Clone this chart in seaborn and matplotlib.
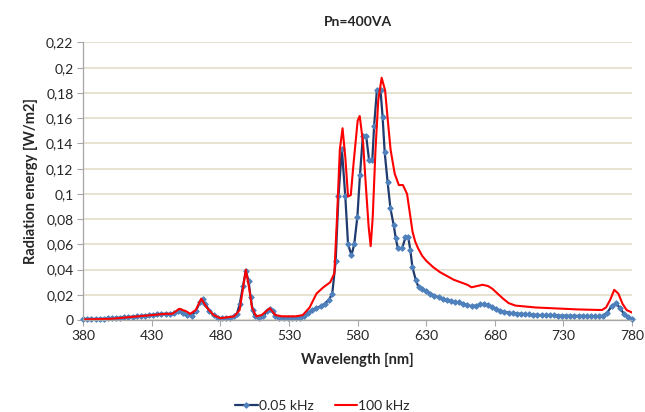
import matplotlib
matplotlib.use("Agg")
import matplotlib.pyplot as plt
from matplotlib.ticker import FuncFormatter, MultipleLocator
import seaborn as sns

# 0.05 kHz series (wavelength nm, radiation energy W/m2)
wl_low = [380, 383, 386, 389, 392, 395, 398, 401, 404, 407, 410, 413, 416, 419, 422,
          425, 428, 431, 434, 437, 440, 443, 446, 449, 451, 453, 456, 459, 462, 465,
          467, 469, 472, 475, 478, 481, 484, 487, 490, 492, 494, 496.5, 498.5, 500.5,
          502, 503.5, 505, 508, 511, 514, 516, 518, 520, 523, 526, 529, 532, 535, 538,
          541, 544, 547, 550, 553, 556, 559, 561.5, 564, 566, 568.5, 571, 573, 575.5,
          577.5, 579.8, 581.7, 583.8, 586.2, 588.3, 590.7, 592, 594, 596.7, 598.2,
          599.7, 601.8, 603.9, 606.3, 607.8, 609.3, 612.4, 614.8, 616.9, 618.4, 619.9,
          622.3, 624.4, 627, 630, 633, 636, 639, 642, 645, 648, 651, 654, 657, 660,
          663, 666, 669, 672, 675, 678, 681, 684, 687, 690, 693, 696, 699, 702, 705,
          708, 711, 714, 717, 720, 723, 726, 729, 732, 735, 738, 741, 744, 747, 750,
          753, 756, 759, 762, 765, 768, 771, 774, 777, 780]
val_low = [0.001, 0.001, 0.001, 0.001, 0.001, 0.0012, 0.0013, 0.0015, 0.0018, 0.002,
           0.0022, 0.0025, 0.0028, 0.003, 0.0033, 0.0036, 0.004, 0.0043, 0.0046, 0.005,
           0.005, 0.0048, 0.0055, 0.0072, 0.0075, 0.006, 0.004, 0.0035, 0.007, 0.014,
           0.0166, 0.013, 0.007, 0.004, 0.002, 0.0015, 0.0015, 0.002, 0.003, 0.005,
           0.0125, 0.027, 0.039, 0.031, 0.018, 0.008, 0.003, 0.0015, 0.003, 0.007,
           0.0092, 0.007, 0.003, 0.0015, 0.0015, 0.0015, 0.0015, 0.0018, 0.002, 0.003,
           0.006, 0.008, 0.0095, 0.011, 0.013, 0.016, 0.021, 0.047, 0.098, 0.1355,
           0.098, 0.060, 0.0515, 0.060, 0.082, 0.115, 0.146, 0.146, 0.127, 0.127,
           0.154, 0.182, 0.182, 0.1606, 0.133, 0.1096, 0.0885, 0.075, 0.0647, 0.0568,
           0.0568, 0.0655, 0.0655, 0.0555, 0.042, 0.032, 0.026, 0.0245, 0.023, 0.021,
           0.0195, 0.018, 0.017, 0.016, 0.015, 0.0145, 0.014, 0.013, 0.012, 0.011,
           0.0115, 0.0125, 0.0127, 0.012, 0.0105, 0.009, 0.0075, 0.0065, 0.006, 0.0055,
           0.0052, 0.005, 0.0048, 0.0045, 0.0043, 0.0042, 0.004, 0.004, 0.0038, 0.0037,
           0.0036, 0.0035, 0.0035, 0.0034, 0.0034, 0.0034, 0.0033, 0.0033, 0.0032,
           0.0032, 0.0032, 0.0035, 0.006, 0.011, 0.0132, 0.010, 0.005, 0.0025, 0.001]

# 100 kHz series
wl_high = [380, 400, 420, 440, 445, 450, 455, 458, 462, 466, 470, 475, 480, 490, 494,
           496, 498.5, 501, 503, 506, 510, 516, 520, 525, 535, 540, 545, 550, 555, 560,
           563, 565, 567, 569, 571, 573, 575, 577, 580, 581.5, 584, 586, 588, 589.5,
           591, 593, 595, 597.5, 600, 602, 604, 607, 610, 613, 616, 618.4, 620, 622,
           624, 627, 630, 635, 640, 645, 650, 655, 660, 663, 667, 671, 675, 678, 682,
           686, 690, 695, 700, 710, 720, 730, 740, 750, 758, 761, 764, 767, 770, 773,
           776, 780]
val_high = [0.0005, 0.001, 0.003, 0.005, 0.005, 0.009, 0.007, 0.005, 0.008, 0.017,
            0.010, 0.004, 0.0015, 0.003, 0.008, 0.022, 0.040, 0.025, 0.010, 0.003,
            0.004, 0.0095, 0.004, 0.003, 0.003, 0.004, 0.010, 0.021, 0.026, 0.030,
            0.037, 0.082, 0.135, 0.152, 0.129, 0.098, 0.099, 0.124, 0.158, 0.1617,
            0.140, 0.106, 0.074, 0.0586, 0.082, 0.135, 0.174, 0.192, 0.182, 0.158,
            0.135, 0.116, 0.107, 0.107, 0.100, 0.082, 0.070, 0.062, 0.057, 0.051,
            0.047, 0.042, 0.038, 0.035, 0.032, 0.030, 0.028, 0.026, 0.027, 0.028,
            0.027, 0.025, 0.021, 0.017, 0.0135, 0.0115, 0.011, 0.010, 0.0095, 0.009,
            0.0085, 0.0082, 0.008, 0.010, 0.016, 0.024, 0.021, 0.013, 0.008, 0.006]

x_ticks = [380, 430, 480, 530, 580, 630, 680, 730, 780]

sns.set_style("white")
plt.rcParams["font.family"] = ["Lato", "DejaVu Sans"]

fig, ax = plt.subplots(figsize=(6.45, 4.12), dpi=100)
fig.subplots_adjust(left=0.129, right=0.98, top=0.897, bottom=0.223)

sns.lineplot(x=wl_low, y=val_low, ax=ax, color="#1F3A6E", lw=1.6,
             marker="D", markersize=2.8, markerfacecolor="#4F81BD",
             markeredgecolor="#4F81BD", label="0.05 kHz", clip_on=False)
sns.lineplot(x=wl_high, y=val_high, ax=ax, color="#FF0000", lw=1.5,
             label="100 kHz")

ax.set_xlim(380, 780)
ax.set_ylim(0, 0.22)
ax.set_xticks(x_ticks)
ax.yaxis.set_major_locator(MultipleLocator(0.02))
ax.yaxis.set_major_formatter(FuncFormatter(lambda v, p: ("%g" % round(v, 2)).replace(".", ",")))

ax.grid(axis="y", color="#E3DDC8", lw=1.2)
ax.set_axisbelow(True)
for s in ["top", "right"]:
    ax.spines[s].set_visible(False)
for s in ["left", "bottom"]:
    ax.spines[s].set_color("#A6A6A6")
    ax.spines[s].set_linewidth(0.9)
ax.tick_params(axis="both", which="major", direction="out", length=4,
               color="#A6A6A6", labelsize=10, pad=3, bottom=True, left=True)

ax.set_title("Pn=400VA", fontsize=10, fontweight="bold", pad=12)
ax.set_xlabel("Wavelength [nm]", fontsize=10.5, fontweight="bold", labelpad=8)
ax.set_ylabel("Radiation energy [W/m2]", fontsize=10.5, fontweight="bold", labelpad=6)

ax.get_legend().remove()
handles, labels = ax.get_legend_handles_labels()
fig.legend(handles, labels, loc="lower center", bbox_to_anchor=(0.5, -0.03),
           ncol=2, frameon=False, fontsize=10, handlelength=1.6,
           handletextpad=0.1, columnspacing=1.5)

fig.savefig("out.png", dpi=100)
